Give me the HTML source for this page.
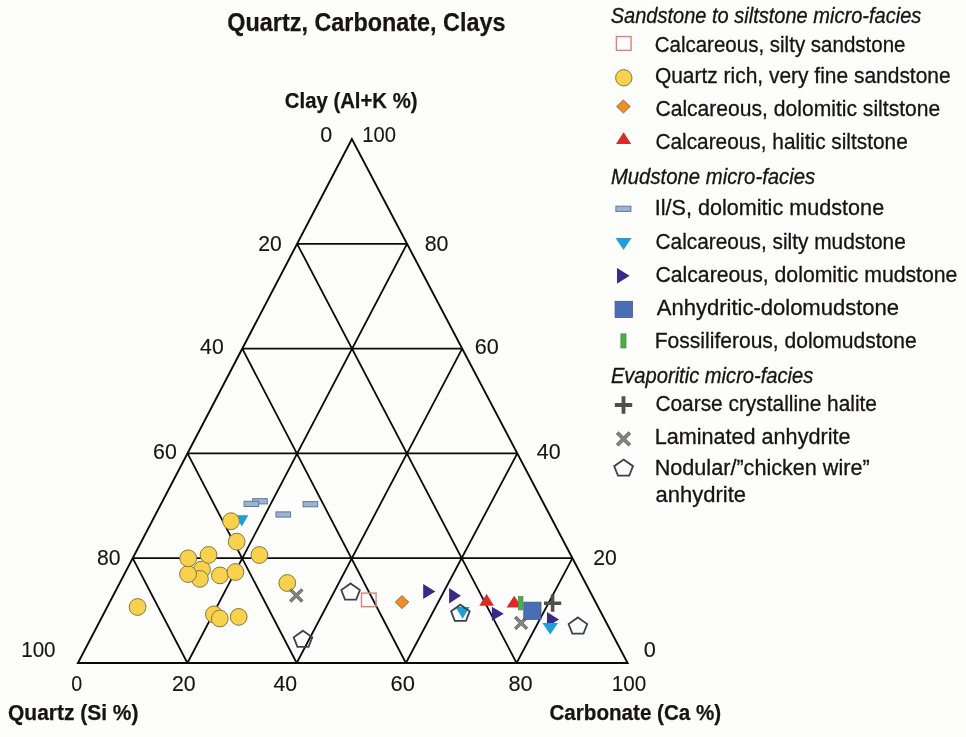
<!DOCTYPE html>
<html><head><meta charset="utf-8"><title>Quartz, Carbonate, Clays</title>
<style>
html,body{margin:0;padding:0;background:#fdfdfc;}
body{width:966px;height:737px;overflow:hidden;}
svg{display:block;will-change:transform;font-family:"Liberation Sans",sans-serif;font-kerning:none;}
</style></head><body>
<svg width="966" height="737" viewBox="0 0 966 737">
<rect width="966" height="737" fill="#fdfdfc"/>
<path d="M132.70 558.20L572.46 558.20M187.40 663.00L407.04 243.80M187.40 663.00L132.70 558.20M187.50 453.40L517.32 453.40M296.70 663.00L462.18 348.60M296.70 663.00L187.50 453.40M242.30 348.60L462.18 348.60M405.90 663.00L517.32 453.40M405.90 663.00L242.30 348.60M297.10 243.80L407.04 243.80M516.60 663.00L572.46 558.20M516.60 663.00L297.10 243.80" stroke="#0a0a0a" stroke-width="1.8" fill="none"/>
<path d="M351.90 139.00L77.90 663.00L627.60 663.00Z" stroke="#0a0a0a" stroke-width="1.9" fill="none" stroke-linejoin="miter"/>
<rect x="616.40" y="36.55" width="14.70" height="13.80" fill="none" stroke="#d9837a" stroke-width="1.4"/>
<circle cx="623.80" cy="77.80" r="8.20" fill="#f8d24e" stroke="#8a7838" stroke-width="1.0"/>
<path d="M623.40 100.00L630.20 106.50L623.40 113.00L616.60 106.50Z" fill="#ef8d2c" stroke="#956330" stroke-width="0.9"/>
<path d="M623.60 132.30L631.20 143.90L616.00 143.90Z" fill="#dc2a27"/>
<rect x="615.90" y="206.20" width="15.00" height="5.20" fill="#9db3d3" stroke="#5f789f" stroke-width="1.0"/>
<path d="M615.60 238.00L631.50 238.00L623.55 250.00Z" fill="#1f9ed8"/>
<path d="M617.00 267.90L629.60 275.85L617.00 283.80Z" fill="#3b2a83"/>
<rect x="615.10" y="301.30" width="17.30" height="16.20" fill="#4a6db4" stroke="#3a5896" stroke-width="0.8"/>
<rect x="620.85" y="333.80" width="5.20" height="14.20" fill="#4cab4c" stroke="#3b8c3d" stroke-width="0.6"/>
<path d="M614.80 405.00H632.20M623.50 396.30V413.70" stroke="#4f4f4f" stroke-width="3.80" fill="none"/>
<path d="M617.20 432.60L629.80 445.20M629.80 432.60L617.20 445.20" stroke="#636363" stroke-width="3.70" fill="none"/><path d="M617.60 433.00L629.40 444.80M629.40 433.00L617.60 444.80" stroke="#838383" stroke-width="2.60" fill="none"/>
<path d="M623.60 459.50L633.00 466.14L629.24 475.70L617.96 475.70L614.20 466.14Z" fill="none" stroke="#3a434e" stroke-width="1.8" stroke-linejoin="miter"/>
<rect x="252.70" y="498.70" width="14.60" height="5.20" fill="#9db3d3" stroke="#5f789f" stroke-width="1.0"/>
<rect x="244.10" y="501.30" width="14.60" height="5.20" fill="#9db3d3" stroke="#5f789f" stroke-width="1.0"/>
<rect x="276.00" y="511.90" width="14.60" height="5.20" fill="#9db3d3" stroke="#5f789f" stroke-width="1.0"/>
<rect x="303.10" y="501.60" width="14.60" height="5.20" fill="#9db3d3" stroke="#5f789f" stroke-width="1.0"/>
<path d="M235.30 515.20L248.30 515.20L241.80 526.60Z" fill="#1f9ed8"/>
<circle cx="231.05" cy="521.20" r="8.40" fill="#f8d24e" stroke="#8a7838" stroke-width="1.0"/>
<circle cx="236.70" cy="541.70" r="8.40" fill="#f8d24e" stroke="#8a7838" stroke-width="1.0"/>
<circle cx="259.40" cy="555.00" r="8.40" fill="#f8d24e" stroke="#8a7838" stroke-width="1.0"/>
<circle cx="202.00" cy="569.50" r="8.40" fill="#f8d24e" stroke="#8a7838" stroke-width="1.0"/>
<circle cx="199.90" cy="578.90" r="8.40" fill="#f8d24e" stroke="#8a7838" stroke-width="1.0"/>
<circle cx="188.05" cy="574.05" r="8.40" fill="#f8d24e" stroke="#8a7838" stroke-width="1.0"/>
<circle cx="188.20" cy="558.30" r="8.40" fill="#f8d24e" stroke="#8a7838" stroke-width="1.0"/>
<circle cx="208.55" cy="554.90" r="8.40" fill="#f8d24e" stroke="#8a7838" stroke-width="1.0"/>
<circle cx="219.90" cy="575.40" r="8.40" fill="#f8d24e" stroke="#8a7838" stroke-width="1.0"/>
<circle cx="235.40" cy="572.00" r="8.40" fill="#f8d24e" stroke="#8a7838" stroke-width="1.0"/>
<circle cx="287.30" cy="583.00" r="8.40" fill="#f8d24e" stroke="#8a7838" stroke-width="1.0"/>
<circle cx="137.60" cy="607.00" r="8.40" fill="#f8d24e" stroke="#8a7838" stroke-width="1.0"/>
<circle cx="213.90" cy="614.40" r="8.40" fill="#f8d24e" stroke="#8a7838" stroke-width="1.0"/>
<circle cx="219.80" cy="618.50" r="8.40" fill="#f8d24e" stroke="#8a7838" stroke-width="1.0"/>
<circle cx="238.70" cy="616.90" r="8.40" fill="#f8d24e" stroke="#8a7838" stroke-width="1.0"/>
<path d="M290.25 589.35L302.35 601.45M302.35 589.35L290.25 601.45" stroke="#636363" stroke-width="3.40" fill="none"/><path d="M290.65 589.75L301.95 601.05M301.95 589.75L290.65 601.05" stroke="#838383" stroke-width="2.30" fill="none"/>
<path d="M303.00 630.70L312.30 637.34L308.58 646.90L297.42 646.90L293.70 637.34Z" fill="none" stroke="#3a434e" stroke-width="1.8" stroke-linejoin="miter"/>
<path d="M350.60 583.40L359.90 590.04L356.18 599.60L345.02 599.60L341.30 590.04Z" fill="none" stroke="#3a434e" stroke-width="1.8" stroke-linejoin="miter"/>
<rect x="361.50" y="593.10" width="14.60" height="13.60" fill="none" stroke="#d9837a" stroke-width="1.4"/>
<path d="M402.00 595.60L408.70 602.10L402.00 608.60L395.30 602.10Z" fill="#ef8d2c" stroke="#956330" stroke-width="0.9"/>
<path d="M423.20 584.00L435.40 591.50L423.20 599.00Z" fill="#3b2a83"/>
<path d="M449.10 588.05L460.90 595.80L449.10 603.55Z" fill="#3b2a83"/>
<path d="M455.60 607.10L469.60 607.10L462.60 618.70Z" fill="#1f9ed8"/>
<path d="M460.40 604.70L469.70 611.34L465.98 620.90L454.82 620.90L451.10 611.34Z" fill="none" stroke="#3a434e" stroke-width="1.8" stroke-linejoin="miter"/>
<path d="M486.60 594.05L493.95 605.75L479.25 605.75Z" fill="#dc2a27"/>
<path d="M491.85 606.70L503.75 613.70L491.85 620.70Z" fill="#3b2a83"/>
<path d="M514.20 595.80L521.90 607.40L506.50 607.40Z" fill="#dc2a27"/>
<rect x="518.25" y="596.35" width="4.70" height="13.60" fill="#4cab4c" stroke="#3b8c3d" stroke-width="0.6"/>
<path d="M515.20 617.05L527.00 628.85M527.00 617.05L515.20 628.85" stroke="#636363" stroke-width="3.40" fill="none"/><path d="M515.60 617.45L526.60 628.45M526.60 617.45L515.60 628.45" stroke="#838383" stroke-width="2.30" fill="none"/>
<rect x="523.80" y="602.15" width="17.20" height="17.20" fill="#4a6db4" stroke="#3a5896" stroke-width="0.8"/>
<path d="M544.00 603.20H561.20M552.60 594.60V611.80" stroke="#4f4f4f" stroke-width="3.60" fill="none"/>
<path d="M547.00 612.00L559.00 619.50L547.00 627.00Z" fill="#3b2a83"/>
<path d="M542.40 622.90L558.00 622.90L550.20 634.50Z" fill="#1f9ed8"/>
<path d="M577.90 617.40L587.20 624.04L583.48 633.60L572.32 633.60L568.60 624.04Z" fill="none" stroke="#3a434e" stroke-width="1.8" stroke-linejoin="miter"/>
<text x="227.34" y="30.70" font-size="25.30" font-weight="bold" font-style="normal" textLength="278.22" lengthAdjust="spacingAndGlyphs" fill="#161415" stroke="#161415" stroke-width="0.25">Quartz, Carbonate, Clays</text>
<text x="284.87" y="107.90" font-size="22.00" font-weight="bold" font-style="normal" textLength="132.65" lengthAdjust="spacingAndGlyphs" fill="#161415" stroke="#161415" stroke-width="0.25">Clay (Al+K %)</text>
<text x="8.04" y="719.70" font-size="22.00" font-weight="bold" font-style="normal" textLength="130.40" lengthAdjust="spacingAndGlyphs" fill="#161415" stroke="#161415" stroke-width="0.25">Quartz (Si %)</text>
<text x="549.45" y="719.90" font-size="22.00" font-weight="bold" font-style="normal" textLength="171.77" lengthAdjust="spacingAndGlyphs" fill="#161415" stroke="#161415" stroke-width="0.25">Carbonate (Ca %)</text>
<text x="320.16" y="142.32" font-size="21.40" font-weight="normal" font-style="normal" textLength="11.98" lengthAdjust="spacingAndGlyphs" fill="#161415" stroke="#161415" stroke-width="0.12">0</text>
<text x="258.24" y="250.82" font-size="21.40" font-weight="normal" font-style="normal" textLength="23.49" lengthAdjust="spacingAndGlyphs" fill="#161415" stroke="#161415" stroke-width="0.12">20</text>
<text x="200.11" y="353.82" font-size="21.40" font-weight="normal" font-style="normal" textLength="23.62" lengthAdjust="spacingAndGlyphs" fill="#161415" stroke="#161415" stroke-width="0.12">40</text>
<text x="153.12" y="458.72" font-size="21.40" font-weight="normal" font-style="normal" textLength="23.72" lengthAdjust="spacingAndGlyphs" fill="#161415" stroke="#161415" stroke-width="0.12">60</text>
<text x="97.08" y="565.42" font-size="21.40" font-weight="normal" font-style="normal" textLength="23.55" lengthAdjust="spacingAndGlyphs" fill="#161415" stroke="#161415" stroke-width="0.12">80</text>
<text x="21.23" y="657.02" font-size="21.40" font-weight="normal" font-style="normal" textLength="34.37" lengthAdjust="spacingAndGlyphs" fill="#161415" stroke="#161415" stroke-width="0.12">100</text>
<text x="362.26" y="142.32" font-size="21.40" font-weight="normal" font-style="normal" textLength="33.73" lengthAdjust="spacingAndGlyphs" fill="#161415" stroke="#161415" stroke-width="0.12">100</text>
<text x="424.67" y="250.72" font-size="21.40" font-weight="normal" font-style="normal" textLength="23.76" lengthAdjust="spacingAndGlyphs" fill="#161415" stroke="#161415" stroke-width="0.12">80</text>
<text x="474.80" y="353.82" font-size="21.40" font-weight="normal" font-style="normal" textLength="24.04" lengthAdjust="spacingAndGlyphs" fill="#161415" stroke="#161415" stroke-width="0.12">60</text>
<text x="536.81" y="458.67" font-size="21.40" font-weight="normal" font-style="normal" textLength="23.83" lengthAdjust="spacingAndGlyphs" fill="#161415" stroke="#161415" stroke-width="0.12">40</text>
<text x="593.23" y="565.32" font-size="21.40" font-weight="normal" font-style="normal" textLength="23.60" lengthAdjust="spacingAndGlyphs" fill="#161415" stroke="#161415" stroke-width="0.12">20</text>
<text x="643.65" y="656.92" font-size="21.40" font-weight="normal" font-style="normal" textLength="12.10" lengthAdjust="spacingAndGlyphs" fill="#161415" stroke="#161415" stroke-width="0.12">0</text>
<text x="71.33" y="690.72" font-size="21.40" font-weight="normal" font-style="normal" textLength="10.94" lengthAdjust="spacingAndGlyphs" fill="#161415" stroke="#161415" stroke-width="0.12">0</text>
<text x="172.03" y="690.72" font-size="21.40" font-weight="normal" font-style="normal" textLength="23.70" lengthAdjust="spacingAndGlyphs" fill="#161415" stroke="#161415" stroke-width="0.12">20</text>
<text x="273.51" y="690.72" font-size="21.40" font-weight="normal" font-style="normal" textLength="23.62" lengthAdjust="spacingAndGlyphs" fill="#161415" stroke="#161415" stroke-width="0.12">40</text>
<text x="390.59" y="690.72" font-size="21.40" font-weight="normal" font-style="normal" textLength="24.37" lengthAdjust="spacingAndGlyphs" fill="#161415" stroke="#161415" stroke-width="0.12">60</text>
<text x="508.45" y="690.72" font-size="21.40" font-weight="normal" font-style="normal" textLength="24.19" lengthAdjust="spacingAndGlyphs" fill="#161415" stroke="#161415" stroke-width="0.12">80</text>
<text x="611.83" y="690.72" font-size="21.40" font-weight="normal" font-style="normal" textLength="34.48" lengthAdjust="spacingAndGlyphs" fill="#161415" stroke="#161415" stroke-width="0.12">100</text>
<text x="610.63" y="23.00" font-size="21.50" font-weight="normal" font-style="italic" textLength="310.68" lengthAdjust="spacingAndGlyphs" fill="#161415" stroke="#161415" stroke-width="0.30">Sandstone to siltstone micro-facies</text>
<text x="654.66" y="51.60" font-size="21.50" font-weight="normal" font-style="normal" textLength="250.85" lengthAdjust="spacingAndGlyphs" fill="#161415" stroke="#161415" stroke-width="0.30">Calcareous, silty sandstone</text>
<text x="654.91" y="82.70" font-size="21.50" font-weight="normal" font-style="normal" textLength="295.72" lengthAdjust="spacingAndGlyphs" fill="#161415" stroke="#161415" stroke-width="0.30">Quartz rich, very fine sandstone</text>
<text x="655.43" y="115.90" font-size="21.50" font-weight="normal" font-style="normal" textLength="284.81" lengthAdjust="spacingAndGlyphs" fill="#161415" stroke="#161415" stroke-width="0.30">Calcareous, dolomitic siltstone</text>
<text x="655.44" y="149.20" font-size="21.50" font-weight="normal" font-style="normal" textLength="252.28" lengthAdjust="spacingAndGlyphs" fill="#161415" stroke="#161415" stroke-width="0.30">Calcareous, halitic siltstone</text>
<text x="610.88" y="183.50" font-size="21.50" font-weight="normal" font-style="italic" textLength="204.34" lengthAdjust="spacingAndGlyphs" fill="#161415" stroke="#161415" stroke-width="0.30">Mudstone micro-facies</text>
<text x="654.71" y="215.20" font-size="21.50" font-weight="normal" font-style="normal" textLength="229.46" lengthAdjust="spacingAndGlyphs" fill="#161415" stroke="#161415" stroke-width="0.30">Il/S, dolomitic mudstone</text>
<text x="655.54" y="248.60" font-size="21.50" font-weight="normal" font-style="normal" textLength="250.29" lengthAdjust="spacingAndGlyphs" fill="#161415" stroke="#161415" stroke-width="0.30">Calcareous, silty mudstone</text>
<text x="655.42" y="281.50" font-size="21.50" font-weight="normal" font-style="normal" textLength="302.02" lengthAdjust="spacingAndGlyphs" fill="#161415" stroke="#161415" stroke-width="0.30">Calcareous, dolomitic mudstone</text>
<text x="656.76" y="314.80" font-size="21.50" font-weight="normal" font-style="normal" textLength="242.32" lengthAdjust="spacingAndGlyphs" fill="#161415" stroke="#161415" stroke-width="0.30">Anhydritic-dolomudstone</text>
<text x="654.77" y="348.10" font-size="21.50" font-weight="normal" font-style="normal" textLength="261.96" lengthAdjust="spacingAndGlyphs" fill="#161415" stroke="#161415" stroke-width="0.30">Fossiliferous, dolomudstone</text>
<text x="610.88" y="382.80" font-size="21.50" font-weight="normal" font-style="italic" textLength="202.43" lengthAdjust="spacingAndGlyphs" fill="#161415" stroke="#161415" stroke-width="0.30">Evaporitic micro-facies</text>
<text x="655.44" y="410.80" font-size="21.50" font-weight="normal" font-style="normal" textLength="221.49" lengthAdjust="spacingAndGlyphs" fill="#161415" stroke="#161415" stroke-width="0.30">Coarse crystalline halite</text>
<text x="654.73" y="443.70" font-size="21.50" font-weight="normal" font-style="normal" textLength="195.73" lengthAdjust="spacingAndGlyphs" fill="#161415" stroke="#161415" stroke-width="0.30">Laminated anhydrite</text>
<text x="654.73" y="475.00" font-size="21.50" font-weight="normal" font-style="normal" textLength="214.96" lengthAdjust="spacingAndGlyphs" fill="#161415" stroke="#161415" stroke-width="0.30">Nodular/”chicken wire”</text>
<text x="655.57" y="502.00" font-size="21.50" font-weight="normal" font-style="normal" textLength="90.41" lengthAdjust="spacingAndGlyphs" fill="#161415" stroke="#161415" stroke-width="0.30">anhydrite</text>
</svg>
</body></html>
